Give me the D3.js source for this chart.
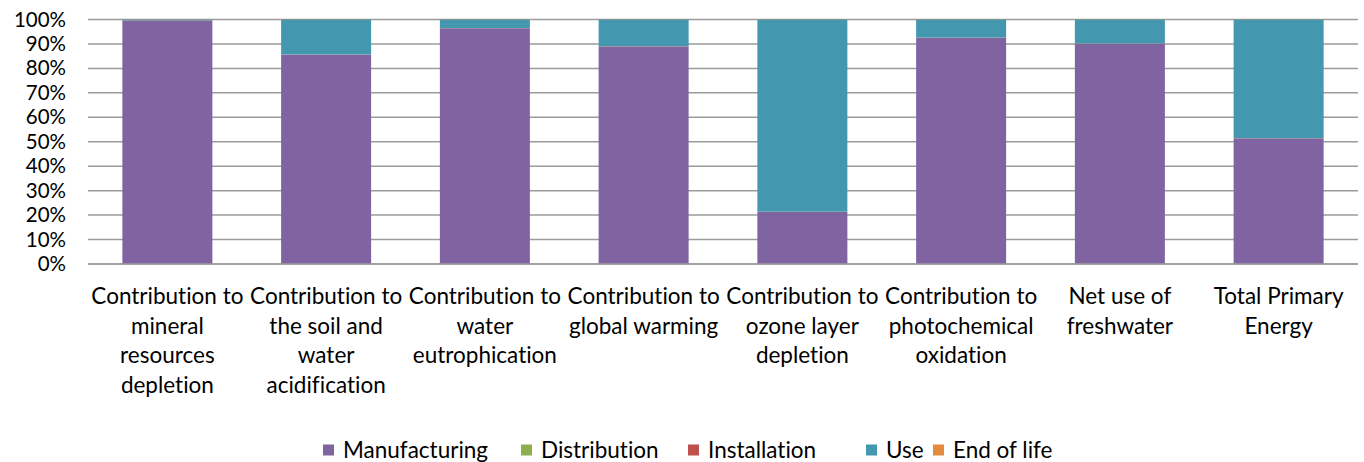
<!DOCTYPE html>
<html>
<head>
<meta charset="utf-8">
<script src="https://cdn.jsdelivr.net/npm/d3@7"></script>
<style>
  html, body { margin: 0; padding: 0; background: #fff; }
  svg { display: block; font-family: Lato, "Open Sans", sans-serif; font-variant-ligatures: none; font-feature-settings: "liga" 0, "clig" 0; }
</style>
</head>
<body>
<svg id="chart" width="1364" height="462"></svg>
<script>
// Impact categories (wrapped lines for the axis labels)
const categories = [
  "Contribution to mineral resources depletion",
  "Contribution to the soil and water acidification",
  "Contribution to water eutrophication",
  "Contribution to global warming",
  "Contribution to ozone layer depletion",
  "Contribution to photochemical oxidation",
  "Net use of freshwater",
  "Total Primary Energy"
];
const tickLabels = [
  ["Contribution to", "mineral", "resources", "depletion"],
  ["Contribution to", "the soil and", "water", "acidification"],
  ["Contribution to", "water", "eutrophication"],
  ["Contribution to", "global warming"],
  ["Contribution to", "ozone layer", "depletion"],
  ["Contribution to", "photochemical", "oxidation"],
  ["Net use of", "freshwater"],
  ["Total Primary", "Energy"]
];

// Life-cycle phase shares, in percent
const seriesNames = ["Manufacturing", "Distribution", "Installation", "Use", "End of life"];
const manufacturing = [99.6, 85.6, 96.4, 89.0, 21.3, 92.5, 90.1, 51.4];
const distribution  = [0.05, 0.05, 0.05, 0.05, 0.05, 0.05, 0.05, 0.05];
const installation  = [0.05, 0.05, 0.05, 0.05, 0.05, 0.05, 0.05, 0.05];
const use           = [0.25, 14.25, 3.45, 10.85, 78.55, 7.35, 9.75, 48.45];
const endOfLife     = [0.05, 0.05, 0.05, 0.05, 0.05, 0.05, 0.05, 0.05];
const yTicks = [0, 0.1, 0.2, 0.3, 0.4, 0.5, 0.6, 0.7, 0.8, 0.9, 1];

const colors = ["#8064A2", "#8FAD4C", "#C0504D", "#4398AF", "#E38A3E"];

const rows = categories.map((c, i) => ({
  category: c,
  Manufacturing: manufacturing[i],
  Distribution: distribution[i],
  Installation: installation[i],
  Use: use[i],
  "End of life": endOfLife[i]
}));

const svg = d3.select("#chart");
const W = 1364;
const x0 = 88, x1 = W - 6;
const yTop = 19.5, yBot = 264;

const x = d3.scaleBand()
  .domain(categories)
  .range([x0, x1])
  .paddingInner(0.433)
  .paddingOuter(0.2165);

const y = d3.scaleLinear().domain([0, 1]).range([yBot, yTop]);

const stack = d3.stack().keys(seriesNames).offset(d3.stackOffsetExpand);
const layers = stack(rows);

// Gridlines
svg.append("g")
  .selectAll("line")
  .data(yTicks)
  .join("line")
  .attr("x1", x0).attr("x2", x1)
  .attr("y1", d => y(d)).attr("y2", d => y(d))
  .attr("stroke", "#9b9b9b")
  .attr("stroke-width", 1.5);

// Stacked bars
svg.append("g")
  .selectAll("g")
  .data(layers)
  .join("g")
  .attr("fill", (d, i) => colors[i])
  .selectAll("rect")
  .data(d => d)
  .join("rect")
  .attr("x", d => x(d.data.category))
  .attr("width", x.bandwidth())
  .attr("y", d => y(d[1]))
  .attr("height", d => y(d[0]) - y(d[1]));

// Y axis labels
const yAxis = d3.axisLeft(y)
  .tickValues(yTicks)
  .tickFormat(d3.format(".0%"))
  .tickSize(0)
  .tickPadding(0);
svg.append("g")
  .attr("transform", `translate(66,0)`)
  .call(yAxis)
  .call(g => g.select(".domain").remove())
  .selectAll("text")
  .attr("font-family", "Lato, sans-serif")
  .attr("font-size", 20.5)
  .attr("fill", "#000");

// X axis baseline
svg.append("line")
  .attr("x1", x0).attr("x2", x1)
  .attr("y1", yBot).attr("y2", yBot)
  .attr("stroke", "#9b9b9b")
  .attr("stroke-width", 1.5);

// Category labels
const xl = svg.append("g")
  .selectAll("text")
  .data(categories)
  .join("text")
  .attr("x", d => x(d) + x.bandwidth() / 2)
  .attr("y", 304)
  .attr("text-anchor", "middle")
  .attr("font-size", 22.5)
  .attr("fill", "#000");
xl.each(function(d, i) {
  d3.select(this).selectAll("tspan")
    .data(tickLabels[i])
    .join("tspan")
    .attr("x", x(d) + x.bandwidth() / 2)
    .attr("dy", (t, j) => j === 0 ? 0 : 29.7)
    .text(t => t);
});

// Legend
const legendX = [323, 521, 688, 866, 933];
const legend = svg.append("g")
  .selectAll("g")
  .data(seriesNames)
  .join("g")
  .attr("transform", (d, i) => `translate(${legendX[i]},450)`);
legend.append("rect")
  .attr("x", 0).attr("y", -5.5)
  .attr("width", 11).attr("height", 11)
  .attr("fill", (d, i) => colors[i]);
legend.append("text")
  .attr("x", 20).attr("y", 7.5)
  .attr("font-size", 22.5)
  .attr("fill", "#000")
  .text(d => d);
</script>
</body>
</html>
